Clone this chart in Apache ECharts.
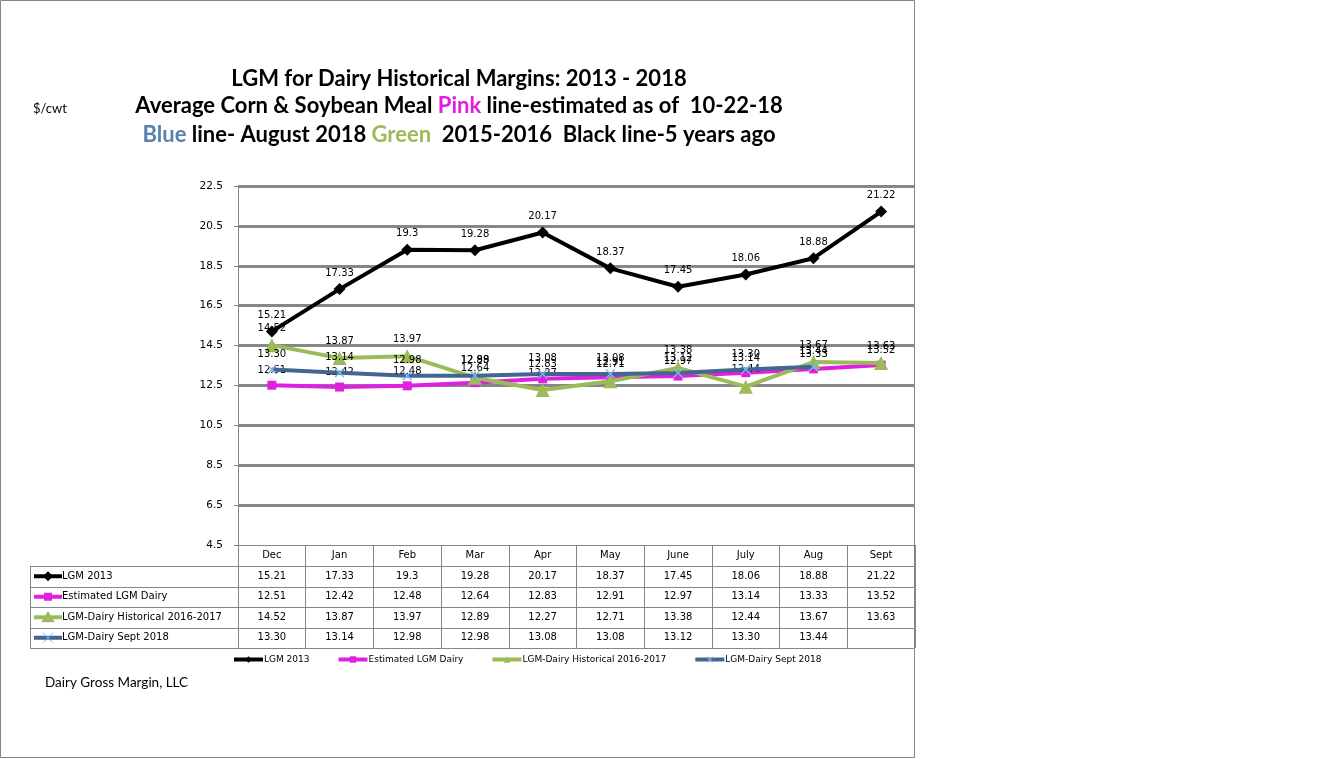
<!DOCTYPE html>
<html>
<head>
<meta charset="utf-8">
<script src="https://cdn.jsdelivr.net/npm/echarts@6/dist/echarts.min.js"></script>
<style>
html,body{margin:0;padding:0;background:#fff;}
#chart{width:1327px;height:759px;}
</style>
</head>
<body>
<div id="chart"></div>
<script>
// ---- data ----
const categories = ['Dec','Jan','Feb','Mar','Apr','May','June','July','Aug','Sept'];
const lgm2013 = [15.21,17.33,19.3,19.28,20.17,18.37,17.45,18.06,18.88,21.22];
const estimatedLgm = [12.51,12.42,12.48,12.64,12.83,12.91,12.97,13.14,13.33,13.52];
const historical1617 = [14.52,13.87,13.97,12.89,12.27,12.71,13.38,12.44,13.67,13.63];
const sept2018 = [13.30,13.14,12.98,12.98,13.08,13.08,13.12,13.30,13.44,null];
const seriesNames = ['LGM 2013','Estimated LGM Dairy','LGM-Dairy Historical 2016-2017','LGM-Dairy Sept 2018'];
const yMin = 4.5, yMax = 22.5, yStep = 2;

// ---- styles ----
const COLORS = ['#000000','#e020e0','#9bbb59','#44658f'];
const FONT = 'DejaVu Sans';
const GRID = {left:238, right:412, top:186, bottom:214};
const X_MARK = 'path://M1,0L5,4L9,0L10,1L6,5L10,9L9,10L5,6L1,10L0,9L4,5L0,1Z';
const TITLE_SIZE = 22;

const seriesData = [lgm2013, estimatedLgm, historical1617, sept2018];
const decimals = [null, null, null, 2];
function fmt(v, d){ if(v===null||v===undefined) return ''; return d ? v.toFixed(d) : String(v); }

const symbols = ['diamond','rect','triangle',X_MARK];
const symbolSizes = [12,9,14,10];

const chart = echarts.init(document.getElementById('chart'));

const series = seriesData.map((arr,i)=>({
  name: seriesNames[i],
  type:'line',
  data: arr,
  symbol: symbols[i],
  symbolSize: symbolSizes[i],
  connectNulls:false,
  lineStyle:{color:COLORS[i], width:4},
  itemStyle: i===3 ? {color:'#7eb6e6'} : {color:COLORS[i]},
  label:{show:true, position:'top', distance:5, color:'#000', fontFamily:FONT, fontSize:10,
         formatter:(p)=>fmt(p.value, decimals[i])},
  emphasis:{disabled:true},
  z: 2+i
}));

const tfont = (c)=>({fontFamily:'Lato', fontWeight:'bold', fontSize:TITLE_SIZE, color:c});

const option = {
  animation:false,
  backgroundColor:'#fff',
  title:[
    {text:'LGM for Dairy Historical Margins: 2013 - 2018', left:454, top:63, textAlign:'center',
     textStyle:tfont('#000')},
    {text:'{a|Average Corn & Soybean Meal }{p|Pink}{a| line-estimated as of  10-22-18}', left:454, top:90, textAlign:'center',
     textStyle:{rich:{a:tfont('#000'), p:tfont('#e020e0')}}},
    {text:'{b|Blue}{a| line- August 2018 }{g|Green}{a|  2015-2016  Black line-5 years ago}', left:454, top:119, textAlign:'center',
     textStyle:{rich:{a:tfont('#000'), b:tfont('#5a80ad'), g:tfont('#9bbb59')}}},
    {text:'$/cwt', left:28, top:97, textStyle:{fontFamily:'Lato', fontWeight:'normal', fontSize:13, color:'#000'}},
    {text:'Dairy Gross Margin, LLC', left:40, top:671, textStyle:{fontFamily:'Lato', fontWeight:'normal', fontSize:13.5, color:'#000'}}
  ],
  legend:{
    data: seriesNames, left:227, top:650, itemWidth:29, itemHeight:8, itemGap:27,
    lineStyle:{width:4},
    textStyle:{fontFamily:FONT, fontSize:9, color:'#000', padding:[0,0,0,-4]}
  },
  grid: GRID,
  xAxis:{
    type:'category', data:categories, boundaryGap:true,
    axisLine:{show:true, lineStyle:{color:'#868686', width:1}},
    axisTick:{show:true, length:103, lineStyle:{color:'#868686', width:1}},
    axisLabel:{show:true, margin:5, color:'#000', fontFamily:FONT, fontSize:10},
    splitLine:{show:false}
  },
  yAxis:{
    type:'value', min:yMin, max:yMax, interval:yStep,
    axisLine:{show:true, lineStyle:{color:'#868686', width:1}},
    axisTick:{show:true, length:4, lineStyle:{color:'#868686'}},
    axisLabel:{color:'#000', fontFamily:FONT, fontSize:10.5, margin:15, formatter:(v)=>v.toFixed(1)},
    splitLine:{show:true, showMinLine:false, lineStyle:{color:'#878787', width:3}}
  },
  series: series
};
chart.setOption(option);

// ---- data table under the axis (built from the arrays, positioned via the axis) ----
function buildTable(){
  const axisY = chart.convertToPixel({yAxisIndex:0}, yMin);
  const leftX = 30;
  const step = chart.convertToPixel({xAxisIndex:0},1)-chart.convertToPixel({xAxisIndex:0},0);
  const rightX = chart.convertToPixel({xAxisIndex:0}, categories.length-1) + step/2;
  const headerH = 21, rowH = 20.5;
  const g = [];
  g.push({type:'rect', shape:{x:0.5,y:0.5,width:914,height:757}, style:{fill:'none', stroke:'#868686', lineWidth:1}, silent:true});
  const rowTop = axisY + headerH;
  for(let r=0;r<=seriesNames.length;r++){
    const y = Math.round(rowTop + r*rowH)+0.5;
    g.push({type:'line', shape:{x1:leftX,y1:y,x2:rightX,y2:y}, style:{stroke:'#868686', lineWidth:1}, silent:true});
  }
  g.push({type:'line', shape:{x1:leftX+0.5,y1:Math.round(rowTop)+0.5,x2:leftX+0.5,y2:Math.round(rowTop+seriesNames.length*rowH)+0.5}, style:{stroke:'#868686', lineWidth:1}, silent:true});
  seriesNames.forEach((name,r)=>{
    const cy = rowTop + r*rowH + rowH/2;
    const ix1 = leftX+4, ix2 = leftX+32, icx = (ix1+ix2)/2;
    g.push({type:'line', shape:{x1:ix1,y1:cy,x2:ix2,y2:cy}, style:{stroke:COLORS[r], lineWidth:4}, silent:true});
    if(r===0) g.push({type:'polygon', shape:{points:[[icx,cy-5],[icx+5,cy],[icx,cy+5],[icx-5,cy]]}, style:{fill:COLORS[0]}, silent:true});
    if(r===1) g.push({type:'rect', shape:{x:icx-4,y:cy-4,width:8,height:8}, style:{fill:COLORS[1]}, silent:true});
    if(r===2) g.push({type:'polygon', shape:{points:[[icx,cy-6],[icx+7,cy+5],[icx-7,cy+5]]}, style:{fill:COLORS[2]}, silent:true});
    if(r===3){
      g.push({type:'line', shape:{x1:icx-5,y1:cy-5,x2:icx+5,y2:cy+5}, style:{stroke:'#7eb6e6', lineWidth:1}, silent:true});
      g.push({type:'line', shape:{x1:icx+5,y1:cy-5,x2:icx-5,y2:cy+5}, style:{stroke:'#7eb6e6', lineWidth:1}, silent:true});
    }
    g.push({type:'text', x:ix2, y:cy, style:{text:name, fill:'#000', font:'10px "DejaVu Sans"', textAlign:'left', textVerticalAlign:'middle'}, silent:true});
    seriesData[r].forEach((v,c)=>{
      const cx = chart.convertToPixel({xAxisIndex:0}, c);
      g.push({type:'text', x:cx, y:cy, style:{text:fmt(v,decimals[r]), fill:'#000', font:'10px "DejaVu Sans"', textAlign:'center', textVerticalAlign:'middle'}, silent:true});
    });
  });
  chart.setOption({graphic:{elements:g}});
}
buildTable();
</script>
</body>
</html>
